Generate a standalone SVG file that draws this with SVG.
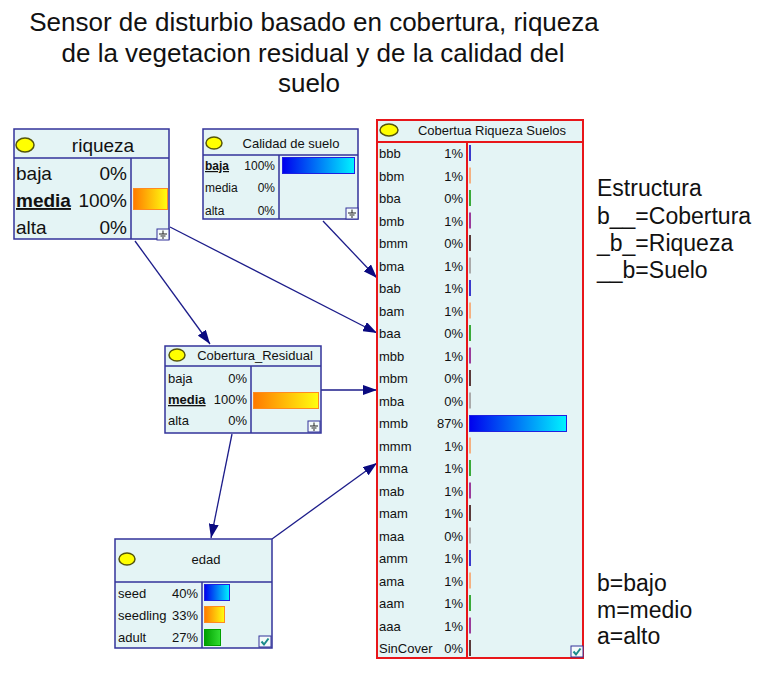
<svg xmlns="http://www.w3.org/2000/svg" width="783" height="675" viewBox="0 0 783 675">
<style>
text{font-family:"Liberation Sans",Arial,sans-serif;fill:#111}
.title{font-size:26px;text-anchor:middle}
.note{font-size:23px}
.box{fill:#e4f4f5;stroke:#33339a;stroke-width:1.5}
.rbox{fill:#e4f4f5;stroke:#e8161a;stroke-width:2}
.ln{stroke:#33339a;stroke-width:1.5}
.rln{stroke:#e8161a;stroke-width:2}
.ell{fill:#ffff00;stroke:#55550a;stroke-width:1.5}
.s{font-size:13px}
.m{font-size:12px}
.l{font-size:19px}
.r{text-anchor:end}
.c{text-anchor:middle}
.b{font-weight:bold;text-decoration:underline}
.conn{stroke:#1c1c8a;stroke-width:1.3;fill:none;marker-end:url(#ah)}
.icon{fill:#f4fafa;stroke:#33339a;stroke-width:1}
.gnd{stroke:#222;stroke-width:1}
.chk{fill:none;stroke:#1a8a8a;stroke-width:2}
</style>
<defs>
<marker id="ah" viewBox="0 0 14 10" refX="14" refY="5" markerWidth="14" markerHeight="10" markerUnits="userSpaceOnUse" orient="auto">
<path d="M0,0 L14,5 L0,10 z" fill="#0a0a80"/>
</marker>
<linearGradient id="gOr" x1="0" x2="1" y1="0" y2="0"><stop offset="0" stop-color="#ff7a00"/><stop offset="1" stop-color="#ffff10"/></linearGradient>
<linearGradient id="gBl" x1="0" x2="1" y1="0" y2="0"><stop offset="0" stop-color="#0000ee"/><stop offset="1" stop-color="#00f4ff"/></linearGradient>
<linearGradient id="gGr" x1="0" x2="1" y1="0" y2="0"><stop offset="0" stop-color="#00a000"/><stop offset="1" stop-color="#33dd33"/></linearGradient>
<g id="gicon"><rect class="icon" x="0" y="0" width="12" height="11"/><path class="gnd" d="M6,1.5 V5 M2,5 H10 M3.5,7 H8.5 M5,9 H7"/></g>
<g id="cicon"><rect class="icon" x="0" y="0" width="12" height="11"/><path class="chk" d="M2.5,5.5 L5,8.5 L9.5,2.5"/></g>
</defs>
<rect width="783" height="675" fill="#ffffff"/>

<g id="title">
<text class="title" x="314" y="31">Sensor de disturbio basado en cobertura, riqueza</text>
<text class="title" x="313" y="62">de la vegetacion residual y de la calidad del</text>
<text class="title" x="309" y="92">suelo</text>
</g>

<g id="connectors">
<line class="conn" x1="135" y1="241" x2="210" y2="344"/>
<line class="conn" x1="170" y1="227" x2="377" y2="333"/>
<line class="conn" x1="323" y1="221" x2="377" y2="278"/>
<line class="conn" x1="321" y1="390" x2="377" y2="390"/>
<line class="conn" x1="232" y1="434" x2="211" y2="538"/>
<line class="conn" x1="272" y1="539" x2="377" y2="463"/>
</g>

<g id="riqueza">
<rect class="box" x="14" y="129" width="155" height="110"/>
<line class="ln" x1="14" y1="158" x2="169" y2="158"/>
<line class="ln" x1="131" y1="158" x2="131" y2="239"/>
<ellipse class="ell" cx="25" cy="145" rx="9" ry="7"/>
<text class="l c" x="103" y="152">riqueza</text>
<text class="l" x="16" y="180">baja</text><text class="l r" x="127" y="180">0%</text>
<text class="l b" x="16" y="207">media</text><text class="l r" x="127" y="207">100%</text>
<text class="l" x="16" y="234">alta</text><text class="l r" x="127" y="234">0%</text>
<rect x="133.5" y="188.5" width="34" height="21" fill="url(#gOr)" stroke="#ff8a20"/>
<use href="#gicon" x="157" y="229"/>
</g>

<g id="calidad">
<rect class="box" x="203" y="129" width="155" height="90"/>
<line class="ln" x1="203" y1="155" x2="358" y2="155"/>
<line class="ln" x1="279" y1="155" x2="279" y2="219"/>
<ellipse class="ell" cx="214" cy="143" rx="8" ry="6"/>
<text class="s c" x="291" y="148">Calidad de suelo</text>
<text class="m b" x="205" y="170">baja</text><text class="m r" x="275" y="170">100%</text>
<text class="m" x="205" y="192">media</text><text class="m r" x="275" y="192">0%</text>
<text class="m" x="205" y="215">alta</text><text class="m r" x="275" y="215">0%</text>
<rect x="282.5" y="157.5" width="72" height="16" fill="url(#gBl)" stroke="#2020e0"/>
<use href="#gicon" x="346" y="208"/>
</g>

<g id="cobertura_residual">
<rect class="box" x="165" y="346" width="156" height="87"/>
<line class="ln" x1="165" y1="366" x2="321" y2="366"/>
<line class="ln" x1="251" y1="366" x2="251" y2="433"/>
<ellipse class="ell" cx="177" cy="355" rx="8" ry="6"/>
<text class="s c" x="255" y="360">Cobertura_Residual</text>
<text class="s" x="168" y="383">baja</text><text class="s r" x="247" y="383">0%</text>
<text class="s b" x="168" y="404">media</text><text class="s r" x="247" y="404">100%</text>
<text class="s" x="168" y="425">alta</text><text class="s r" x="247" y="425">0%</text>
<rect x="253.5" y="392.5" width="65" height="16" fill="url(#gOr)" stroke="#ff8a20"/>
<use href="#gicon" x="308" y="421"/>
</g>

<g id="edad">
<rect class="box" x="115" y="539" width="157" height="109"/>
<line class="ln" x1="115" y1="582" x2="272" y2="582"/>
<line class="ln" x1="202" y1="582" x2="202" y2="648"/>
<ellipse class="ell" cx="127" cy="559" rx="8" ry="6"/>
<text class="s c" x="206" y="564">edad</text>
<text class="s" x="118" y="598">seed</text><text class="s r" x="198" y="598">40%</text>
<text class="s" x="118" y="620">seedling</text><text class="s r" x="198" y="620">33%</text>
<text class="s" x="118" y="642">adult</text><text class="s r" x="198" y="642">27%</text>
<rect x="204.5" y="584.5" width="25" height="16" fill="url(#gBl)" stroke="#2020e0"/>
<rect x="204.5" y="606.5" width="20" height="16" fill="url(#gOr)" stroke="#ff8a20"/>
<rect x="204.5" y="629.5" width="16" height="16" fill="url(#gGr)" stroke="#00a000"/>
<use href="#cicon" x="259" y="636"/>
</g>

<g id="cobertua_riqueza_suelos">
<rect class="rbox" x="377" y="120" width="206" height="538"/>
<line class="rln" x1="377" y1="142" x2="583" y2="142"/>
<line class="rln" x1="467" y1="142" x2="467" y2="658"/>
<ellipse class="ell" cx="389" cy="130" rx="9" ry="6"/>
<text class="s c" x="492" y="135">Cobertua Riqueza Suelos</text>
<g class="s">
<text x="379" y="158">bbb</text><text class="r" x="463" y="158">1%</text>
<text x="379" y="180.5">bbm</text><text class="r" x="463" y="180.5">1%</text>
<text x="379" y="203">bba</text><text class="r" x="463" y="203">0%</text>
<text x="379" y="225.5">bmb</text><text class="r" x="463" y="225.5">1%</text>
<text x="379" y="248">bmm</text><text class="r" x="463" y="248">0%</text>
<text x="379" y="270.5">bma</text><text class="r" x="463" y="270.5">1%</text>
<text x="379" y="293">bab</text><text class="r" x="463" y="293">1%</text>
<text x="379" y="315.5">bam</text><text class="r" x="463" y="315.5">1%</text>
<text x="379" y="338">baa</text><text class="r" x="463" y="338">0%</text>
<text x="379" y="360.5">mbb</text><text class="r" x="463" y="360.5">1%</text>
<text x="379" y="383">mbm</text><text class="r" x="463" y="383">0%</text>
<text x="379" y="405.5">mba</text><text class="r" x="463" y="405.5">0%</text>
<text x="379" y="428">mmb</text><text class="r" x="463" y="428">87%</text>
<text x="379" y="450.5">mmm</text><text class="r" x="463" y="450.5">1%</text>
<text x="379" y="473">mma</text><text class="r" x="463" y="473">1%</text>
<text x="379" y="495.5">mab</text><text class="r" x="463" y="495.5">1%</text>
<text x="379" y="518">mam</text><text class="r" x="463" y="518">1%</text>
<text x="379" y="540.5">maa</text><text class="r" x="463" y="540.5">0%</text>
<text x="379" y="563">amm</text><text class="r" x="463" y="563">1%</text>
<text x="379" y="585.5">ama</text><text class="r" x="463" y="585.5">1%</text>
<text x="379" y="608">aam</text><text class="r" x="463" y="608">1%</text>
<text x="379" y="630.5">aaa</text><text class="r" x="463" y="630.5">1%</text>
<text x="379" y="653">SinCover</text><text class="r" x="463" y="653">0%</text>
</g>
<g>
<rect x="469" y="145" width="2" height="16" fill="#3a3acc"/>
<rect x="469" y="167.5" width="2" height="16" fill="#f4b080"/>
<rect x="469" y="190" width="2" height="16" fill="#3aaa3a"/>
<rect x="469" y="212.5" width="2" height="16" fill="#9a3a9a"/>
<rect x="469" y="235" width="2" height="16" fill="#5a3a3a"/>
<rect x="469" y="257.5" width="2" height="16" fill="#aaaaaa"/>
<rect x="469" y="280" width="2" height="16" fill="#3a3acc"/>
<rect x="469" y="302.5" width="2" height="16" fill="#f4b080"/>
<rect x="469" y="325" width="2" height="16" fill="#3aaa3a"/>
<rect x="469" y="347.5" width="2" height="16" fill="#9a3a9a"/>
<rect x="469" y="370" width="2" height="16" fill="#5a3a3a"/>
<rect x="469" y="392.5" width="2" height="16" fill="#aaaaaa"/>
<rect x="469.5" y="415.5" width="97" height="16" fill="url(#gBl)" stroke="#2020e0"/>
<rect x="469" y="437.5" width="2" height="16" fill="#f4b080"/>
<rect x="469" y="460" width="2" height="16" fill="#3aaa3a"/>
<rect x="469" y="482.5" width="2" height="16" fill="#9a3a9a"/>
<rect x="469" y="505" width="2" height="16" fill="#5a3a3a"/>
<rect x="469" y="527.5" width="2" height="16" fill="#aaaaaa"/>
<rect x="469" y="550" width="2" height="16" fill="#3a3acc"/>
<rect x="469" y="572.5" width="2" height="16" fill="#f4b080"/>
<rect x="469" y="595" width="2" height="16" fill="#3aaa3a"/>
<rect x="469" y="617.5" width="2" height="16" fill="#9a3a9a"/>
<rect x="469" y="640" width="2" height="16" fill="#5a3a3a"/>
</g>
<use href="#cicon" x="571" y="646"/>
</g>

<g id="legend">
<text class="note" x="597" y="196">Estructura</text>
<text class="note" x="597" y="224">b__=Cobertura</text>
<text class="note" x="597" y="251">_b_=Riqueza</text>
<text class="note" x="597" y="278">__b=Suelo</text>
<text class="note" x="597" y="591">b=bajo</text>
<text class="note" x="597" y="618">m=medio</text>
<text class="note" x="597" y="644">a=alto</text>
</g>
</svg>
